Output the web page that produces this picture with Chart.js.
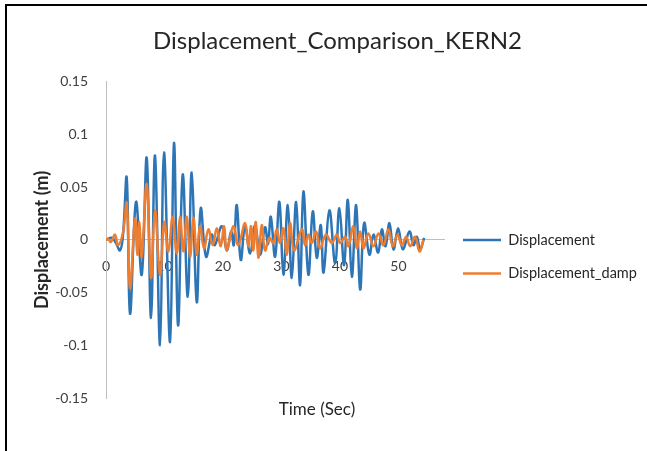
<!DOCTYPE html>
<html>
<head>
<meta charset="utf-8">
<script src="https://cdn.jsdelivr.net/npm/chart.js@4.4.0/dist/chart.umd.min.js"></script>
<style>
  html, body { margin: 0; padding: 0; background: #fff; }
  #wrap { position: relative; width: 647px; height: 451px; overflow: hidden; }
  #frame { position: absolute; left: 5px; top: 4px; width: 700px; height: 500px;
           border-left: 2px solid #000; border-top: 2px solid #000; pointer-events: none; }
</style>
</head>
<body>
<div id="wrap">
  <canvas id="chart" width="647" height="451"></canvas>
  <div id="frame"></div>
</div>
<script>
// time (s) / displacement (m) at the turning points of each record
const dispTime = [0, 1.0, 1.7, 2.4, 2.9, 3.54, 4.11, 5.13, 6.11, 6.96, 7.70, 8.38, 9.24, 9.92, 10.95,
  11.63, 12.32, 13.12, 13.98, 14.66, 15.52, 16.20, 17.11, 18.08, 18.6, 19.8, 20.65, 21.4, 21.85,
  22.36, 23.05, 23.78, 24.64, 25.49, 26.35, 27.2, 27.7, 28.18, 28.91, 29.65, 30.33, 31.09, 31.77,
  32.51, 33.19, 33.76, 34.61, 35.36, 36.05, 36.73, 37.2, 38.2, 39.18, 39.91, 40.72, 41.35, 42.04,
  42.77, 43.46, 44.14, 45.05, 45.73, 46.54, 47.17, 47.8, 48.47, 49.15, 49.96, 50.76, 51.89, 52.57,
  53.16, 53.72, 54.40];
const dispValue = [0, 0.002, -0.003, -0.010, 0.004, 0.059, -0.070, 0.036, -0.033, 0.078, -0.074, 0.080, -0.100, 0.083, -0.097,
  0.092, -0.081, 0.062, -0.054, 0.064, -0.059, 0.030, -0.016, 0.005, -0.005, 0.013, -0.010, 0.008, -0.005,
  0.033, -0.019, 0.013, -0.013, 0.014, -0.014, 0.012, -0.004, 0.022, -0.016, 0.036, -0.033, 0.033, -0.036,
  0.036, -0.043, 0.046, -0.033, 0.027, -0.017, 0.014, -0.031, 0.028, -0.022, 0.030, -0.024, 0.038, -0.035,
  0.033, -0.047, 0.016, -0.014, 0.005, -0.012, 0.010, -0.006, 0.016, -0.009, 0.011, -0.009, 0.008, -0.005,
  0.003, -0.009, 0.002];

const dampTime = [0, 0.34, 0.86, 1.54, 2.05, 2.91, 3.54, 4.11, 4.96, 5.36, 5.70, 6.11, 6.96, 7.70, 8.38,
  9.24, 9.97, 10.66, 11.41, 12.10, 12.66, 13.22, 13.81, 14.37, 14.94, 15.52, 16.08, 16.77, 17.50,
  18.25, 18.94, 19.62, 20.19, 20.65, 21.78, 22.63, 23.78, 24.35, 24.81, 25.20, 25.61, 26.06, 26.64,
  27.20, 27.94, 28.62, 29.20, 29.77, 30.33, 30.92, 31.48, 32.16, 33.48, 34.05, 34.61, 35.19, 35.93,
  36.61, 37.6, 38.61, 39.47, 40.03, 40.89, 41.45, 42.31, 42.89, 43.46, 44.02, 44.88, 45.73, 46.59,
  47.44, 48.30, 49.05, 49.84, 50.59, 51.33, 52.01, 52.87, 53.60, 54.29];
const dampValue = [0, 0.001, -0.002, 0.005, -0.005, 0.007, 0.035, -0.046, 0.020, -0.014, 0.017, -0.016, 0.053, -0.036, 0.028,
  -0.033, 0.017, -0.011, 0.022, -0.013, 0.022, -0.011, 0.022, -0.016, 0.021, -0.014, 0.013, -0.008, 0.010,
  -0.005, 0.011, -0.006, 0.013, -0.010, 0.013, -0.005, 0.016, -0.006, 0.013, -0.010, 0.017, -0.017, 0.014,
  -0.010, 0.002, -0.003, 0.010, -0.003, 0.011, -0.014, 0.016, -0.010, 0.010, -0.005, 0.005, -0.003, 0.008,
  -0.008, 0.005, -0.003, 0.005, -0.003, 0.003, -0.006, 0.013, -0.008, 0.008, -0.008, 0.006, -0.006, 0.006,
  -0.005, 0.010, -0.006, 0.005, -0.005, 0.003, -0.006, 0.003, -0.011, 0.000];

const xTicks = [0, 10, 20, 30, 40, 50];
const yTicks = [-0.15, -0.1, -0.05, 0, 0.05, 0.1, 0.15];

const toPoints = (t, v) => t.map((x, i) => ({ x: x, y: v[i] }));

const FONT = 'Lato, "Open Sans", sans-serif';
const LEGEND_W = 203;

new Chart(document.getElementById('chart'), {
  type: 'line',
  data: {
    datasets: [{
      label: 'Displacement',
      data: toPoints(dispTime, dispValue),
      borderColor: '#2E75B6',
      backgroundColor: '#2E75B6',
      borderWidth: 2.5,
      order: 1
    }, {
      label: 'Displacement_damp',
      data: toPoints(dampTime, dampValue),
      borderColor: '#ED7D31',
      backgroundColor: '#ED7D31',
      borderWidth: 2.5,
      order: 0
    }]
  },
  options: {
    responsive: false,
    animation: false,
    elements: { point: { radius: 0 }, line: { tension: 0.4 } },
    layout: { padding: { left: 28, right: 0, top: 0, bottom: 53 } },
    plugins: {
      title: {
        display: true,
        text: 'Displacement_Comparison_KERN2',
        color: '#262626',
        font: { family: FONT, size: 24, weight: 'normal' },
        padding: { top: 27, bottom: 26 }
      },
      legend: {
        position: 'right',
        title: { display: true, text: '', font: { size: 12 }, padding: { top: 0, bottom: 101 } },
        labels: {
          boxWidth: 38,
          boxHeight: 0,
          padding: 19,
          color: '#262626',
          font: { family: FONT, size: 14.5 },
          sort: (a, b) => a.datasetIndex - b.datasetIndex
        }
      },
      tooltip: { enabled: false }
    },
    scales: {
      x: {
        type: 'linear',
        position: { y: 0 },
        min: 0,
        max: 57.8,
        afterBuildTicks: s => { s.ticks = xTicks.map(v => ({ value: v })); },
        ticks: { color: '#404040', padding: 10, font: { family: FONT, size: 14 }, maxRotation: 0 },
        grid: { display: false },
        border: { color: '#BFBFBF', width: 1 }
      },
      y: {
        min: -0.15,
        max: 0.15,
        afterBuildTicks: s => { s.ticks = yTicks.map(v => ({ value: v })); },
        afterFit: s => { s.width = 78; },
        ticks: {
          color: '#404040',
          padding: 10,
          font: { family: FONT, size: 14 },
          callback: v => String(+v.toFixed(2))
        },
        grid: { display: false },
        border: { color: '#BFBFBF', width: 1 },
        title: {
          display: true,
          text: 'Displacement (m)',
          color: '#262626',
          font: { family: FONT, size: 18, weight: 'bold' },
          padding: { top: 3, bottom: 0 }
        }
      }
    }
  },
  plugins: [{
    // the right-hand legend is wider than the default cap for side boxes
    id: 'wideLegend',
    beforeLayout(chart) {
      const lg = chart.legend;
      if (!lg || lg._wide) return;
      const fit = lg.fit.bind(lg);
      lg.fit = function () { this.maxWidth = LEGEND_W; fit(); this.width = LEGEND_W; };
      lg._wide = true;
    }
  }, {
    // x-axis caption sits under the plot, not beside the zero line
    id: 'timeCaption',
    afterDraw(chart) {
      const { ctx, chartArea } = chart;
      ctx.save();
      ctx.font = '17px ' + FONT;
      ctx.fillStyle = '#262626';
      ctx.textAlign = 'center';
      ctx.textBaseline = 'middle';
      ctx.fillText('Time (Sec)', chartArea.left + 211, chartArea.bottom + 12);
      ctx.restore();
    }
  }]
});
</script>
</body>
</html>
